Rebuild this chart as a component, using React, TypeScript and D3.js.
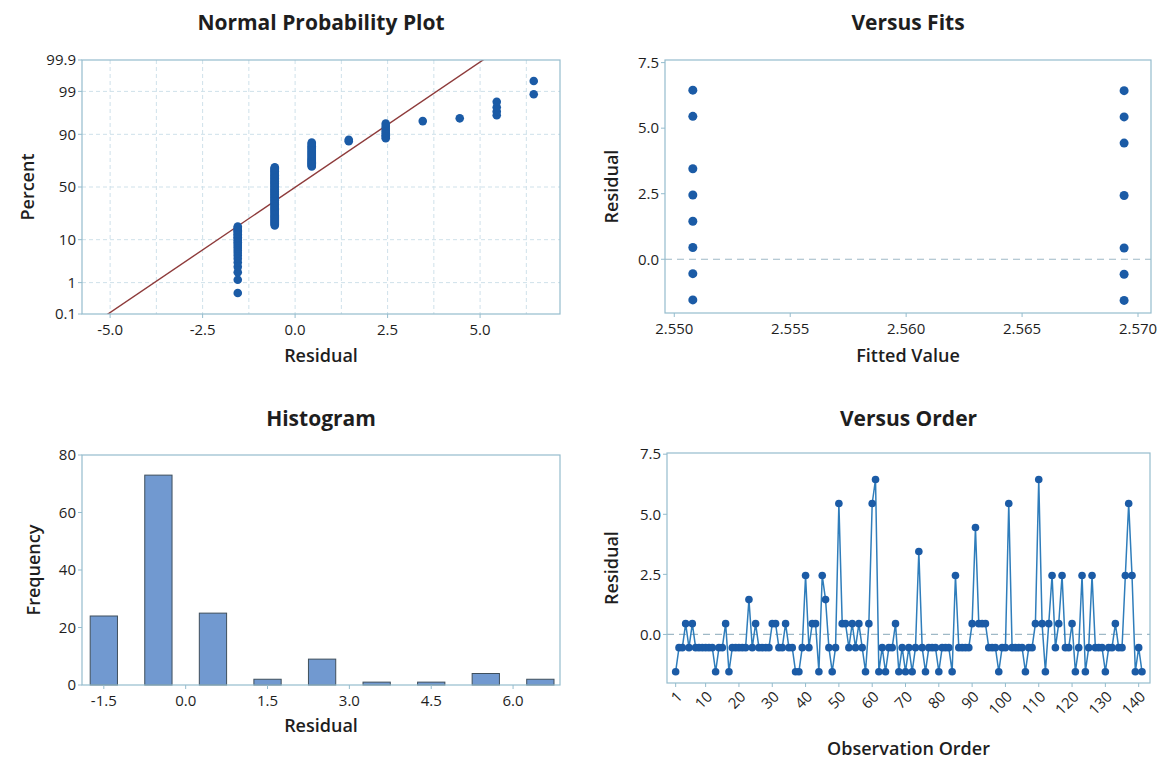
import React from 'react';
import * as d3 from 'd3';

// residuals in observation order (141 obs)
const orderResiduals = [
  -1.55, -0.55, -0.55, 0.45, -0.55, 0.45, -0.55, -0.55, -0.55, -0.55,
  -0.55, -0.55, -1.55, -0.55, -0.55, 0.45, -1.55, -0.55, -0.55, -0.55,
  -0.55, -0.55, 1.45, -0.55, 0.45, -0.55, -0.55, -0.55, -0.55, 0.45,
  0.45, -0.55, -0.55, 0.45, -0.55, -0.55, -1.55, -1.55, -0.55, 2.45,
  -0.55, 0.45, 0.45, -1.55, 2.45, 1.45, -0.55, -1.55, -0.55, 5.45,
  0.45, 0.45, -0.55, 0.45, -0.55, 0.45, -0.55, -1.55, 0.45, 5.45,
  6.45, -1.55, -0.55, -1.55, -0.55, -0.55, 0.45, -1.55, -0.55, -1.55,
  -0.55, -1.55, -0.55, 3.45, -0.55, -1.55, -0.55, -0.55, -0.55, -1.55,
  -0.55, -0.55, -0.55, -1.55, 2.45, -0.55, -0.55, -0.55, -0.55, 0.45,
  4.45, 0.45, 0.45, 0.45, -0.55, -0.55, -0.55, -1.55, -0.55, -0.55,
  5.45, -0.55, -0.55, -0.55, -0.55, -1.55, -0.55, -0.55, 0.45, 6.45,
  0.45, -1.55, 0.45, 2.45, -0.55, 0.45, 2.45, -0.55, -0.55, 0.45,
  -1.55, -0.55, 2.45, -1.55, -0.55, 2.45, -0.55, -0.55, -0.55, -1.55,
  -0.55, -0.55, 0.45, -0.55, -0.55, 2.45, 5.45, 2.45, -1.55, -0.55,
  -1.55,
];

const histBinCenters = [-1.5, -0.5, 0.5, 1.5, 2.5, 3.5, 4.5, 5.5, 6.5];
const histCounts = [24, 73, 25, 2, 9, 1, 1, 4, 2];
const histBinWidth = 0.5;

const fitValues = [2.5508, 2.5694];
const fitResidualsLow = [6.45, 5.45, 3.45, 2.45, 1.45, 0.45, -0.55, -1.55];
const fitResidualsHigh = [6.43, 5.43, 4.43, 2.43, 0.43, -0.57, -1.57];

const probTicks = [0.1, 1, 10, 50, 90, 99, 99.9];
const probTickLabels = ['0.1', '1', '10', '50', '90', '99', '99.9'];
const normalXTicks = [-5, -2.5, 0, 2.5, 5];
const normalXGrid = [-5, -3.75, -2.5, -1.25, 0, 1.25, 2.5, 3.75, 5, 6.25];
const fitsXTicks = [2.55, 2.555, 2.56, 2.565, 2.57];
const residualTicks = [0, 2.5, 5, 7.5];
const histXTicks = [-1.5, 0, 1.5, 3, 4.5, 6];
const freqTicks = [0, 20, 40, 60, 80];
const orderTicks = [1, 10, 20, 30, 40, 50, 60, 70, 80, 90, 100, 110, 120, 130, 140];

const FONT = '"Open Sans", "Noto Sans", sans-serif';
const FRAME = '#95bccd';
const GRID = '#cfe1ea';
const DOT = '#1b5ba6';
const LINE = '#2f7dbb';
const TXT = '#1e1e1e';
const TICK_SIZE = 15;

// inverse normal cdf (Acklam)
function probit(p: number) {
  const a = [-39.6968302866538, 220.946098424521, -275.928510446969, 138.357751867269, -30.6647980661472, 2.50662827745924];
  const b = [-54.4760987982241, 161.585836858041, -155.698979859887, 66.8013118877197, -13.2806815528857];
  const c = [-0.00778489400243029, -0.322396458041136, -2.40075827716184, -2.54973253934373, 4.37466414146497, 2.93816398269878];
  const d = [0.00778469570904146, 0.32246712907004, 2.445134137143, 3.75440866190742];
  const pl = 0.02425;
  if (p < pl) {
    const q = Math.sqrt(-2 * Math.log(p));
    return (((((c[0] * q + c[1]) * q + c[2]) * q + c[3]) * q + c[4]) * q + c[5]) / ((((d[0] * q + d[1]) * q + d[2]) * q + d[3]) * q + 1);
  }
  if (p > 1 - pl) {
    const q = Math.sqrt(-2 * Math.log(1 - p));
    return -(((((c[0] * q + c[1]) * q + c[2]) * q + c[3]) * q + c[4]) * q + c[5]) / ((((d[0] * q + d[1]) * q + d[2]) * q + d[3]) * q + 1);
  }
  const q = p - 0.5;
  const r = q * q;
  return (((((a[0] * r + a[1]) * r + a[2]) * r + a[3]) * r + a[4]) * r + a[5]) * q / (((((b[0] * r + b[1]) * r + b[2]) * r + b[3]) * r + b[4]) * r + 1);
}

type Box = { l: number; r: number; t: number; b: number };

function Frame({ box }: { box: Box }) {
  return <rect x={box.l} y={box.t} width={box.r - box.l} height={box.b - box.t} fill="none" stroke={FRAME} strokeWidth={1.2} />;
}

function Titles({ box, title, xLabel, yLabel, yLabelX, titleY, xLabelY }: any) {
  const cx = (box.l + box.r) / 2;
  const cy = (box.t + box.b) / 2;
  return (
    <g fontFamily={FONT} fill={TXT}>
      <text x={cx} y={titleY} textAnchor="middle" fontSize={21} fontWeight={700}>{title}</text>
      <text x={cx} y={xLabelY} textAnchor="middle" fontSize={18} fontWeight={600}>{xLabel}</text>
      <text transform={`translate(${yLabelX},${cy}) rotate(-90)`} textAnchor="middle" fontSize={18} fontWeight={600}>{yLabel}</text>
    </g>
  );
}

function YTicks({ box, scale, ticks, labels }: any) {
  return (
    <g fontFamily={FONT} fontSize={TICK_SIZE} fill={TXT}>
      {ticks.map((t: number, i: number) => (
        <g key={i}>
          <line x1={box.l - 4} x2={box.l} y1={scale(t)} y2={scale(t)} stroke={FRAME} />
          <text x={box.l - 6} y={scale(t)} dy="0.35em" textAnchor="end">{labels[i]}</text>
        </g>
      ))}
    </g>
  );
}

function XTicks({ box, scale, ticks, labels }: any) {
  return (
    <g fontFamily={FONT} fontSize={TICK_SIZE} fill={TXT}>
      {ticks.map((t: number, i: number) => (
        <g key={i}>
          <line x1={scale(t)} x2={scale(t)} y1={box.b} y2={box.b + 4} stroke={FRAME} />
          <text x={scale(t)} y={box.b + 21} textAnchor="middle">{labels[i]}</text>
        </g>
      ))}
    </g>
  );
}

function NormalPlot() {
  const box: Box = { l: 82, r: 560, t: 60, b: 314 };
  const x = d3.scaleLinear().domain([-5.76, 7.16]).range([box.l, box.r]);
  const yz = d3.scaleLinear().domain([-3.09, 3.09]).range([box.b, box.t]);
  const y = (pct: number) => yz(probit(pct / 100));
  const sorted = [...orderResiduals].sort((a, b) => a - b);
  const n = sorted.length;
  const mean = d3.mean(sorted) as number;
  const sd = d3.deviation(sorted) as number;
  const pts = sorted.map((v, i) => ({ v, p: ((i + 1 - 0.3) / (n + 0.4)) * 100 }));
  const zs = [-3.3, 3.3];
  const fitLine = d3.line<number>().x((z) => x(mean + sd * z)).y((z) => yz(z))(zs) as string;
  return (
    <g>
      <defs>
        <clipPath id="clipN"><rect x={box.l} y={box.t} width={box.r - box.l} height={box.b - box.t} /></clipPath>
      </defs>
      {normalXGrid.map((g) => (
        <line key={g} x1={x(g)} x2={x(g)} y1={box.t} y2={box.b} stroke={GRID} strokeDasharray="4,3" />
      ))}
      {probTicks.slice(1, -1).map((p) => (
        <line key={p} x1={box.l} x2={box.r} y1={y(p)} y2={y(p)} stroke={GRID} strokeDasharray="4,3" />
      ))}
      <path d={fitLine} stroke="#8e3b3b" strokeWidth={1.4} fill="none" clipPath="url(#clipN)" />
      {pts.map((d, i) => (
        <circle key={i} cx={x(d.v)} cy={y(d.p)} r={4.3} fill={DOT} />
      ))}
      <Frame box={box} />
      <YTicks box={box} scale={y} ticks={probTicks} labels={probTickLabels} />
      <XTicks box={box} scale={x} ticks={normalXTicks} labels={normalXTicks.map((t) => t.toFixed(1))} />
      <Titles box={box} title="Normal Probability Plot" xLabel="Residual" yLabel="Percent" yLabelX={34} titleY={30} xLabelY={362} />
    </g>
  );
}

function FitsPlot() {
  const box: Box = { l: 665, r: 1151, t: 60, b: 313 };
  const x = d3.scaleLinear().domain([2.5496, 2.57056]).range([box.l, box.r]);
  const y = d3.scaleLinear().domain([-2.05, 7.6]).range([box.b, box.t]);
  const groups = [fitResidualsLow, fitResidualsHigh];
  return (
    <g>
      <line x1={box.l} x2={box.r} y1={y(0)} y2={y(0)} stroke="#9fb9c6" strokeDasharray="7,5" strokeWidth={1.2} />
      {groups.map((g, gi) => g.map((v, i) => (
        <circle key={`${gi}-${i}`} cx={x(fitValues[gi])} cy={y(v)} r={4.5} fill={DOT} />
      )))}
      <Frame box={box} />
      <YTicks box={box} scale={y} ticks={residualTicks} labels={residualTicks.map((t) => t.toFixed(1))} />
      <XTicks box={box} scale={x} ticks={fitsXTicks} labels={fitsXTicks.map((t) => t.toFixed(3))} />
      <Titles box={box} title="Versus Fits" xLabel="Fitted Value" yLabel="Residual" yLabelX={618} titleY={30} xLabelY={362} />
    </g>
  );
}

function HistPlot() {
  const box: Box = { l: 82, r: 560, t: 455, b: 685 };
  const x = d3.scaleLinear().domain([-1.9, 6.86]).range([box.l, box.r]);
  const y = d3.scaleLinear().domain([0, 80]).range([box.b, box.t]);
  return (
    <g>
      {histCounts.map((c, i) => (
        <rect key={i}
          x={x(histBinCenters[i] - histBinWidth / 2)}
          y={y(c)}
          width={x(histBinWidth) - x(0)}
          height={y(0) - y(c)}
          fill="#7199d0" stroke="#3f4f5c" strokeWidth={1} />
      ))}
      <Frame box={box} />
      <YTicks box={box} scale={y} ticks={freqTicks} labels={freqTicks.map(String)} />
      <XTicks box={box} scale={x} ticks={histXTicks} labels={histXTicks.map((t) => t.toFixed(1))} />
      <Titles box={box} title="Histogram" xLabel="Residual" yLabel="Frequency" yLabelX={40} titleY={426} xLabelY={732} />
    </g>
  );
}

function OrderPlot() {
  const box: Box = { l: 667, r: 1150, t: 453, b: 683 };
  const x = d3.scaleLinear().domain([-1.6, 143.4]).range([box.l, box.r]);
  const y = d3.scaleLinear().domain([-2.02, 7.55]).range([box.b, box.t]);
  const pts = orderResiduals.map((v, i) => ({ o: i + 1, v }));
  const path = d3.line<{ o: number; v: number }>().x((d) => x(d.o)).y((d) => y(d.v))(pts) as string;
  return (
    <g>
      <line x1={box.l} x2={box.r} y1={y(0)} y2={y(0)} stroke="#9fb9c6" strokeDasharray="7,5" strokeWidth={1.2} />
      <path d={path} fill="none" stroke={LINE} strokeWidth={1.5} />
      {pts.map((d) => (
        <circle key={d.o} cx={x(d.o)} cy={y(d.v)} r={3.8} fill={DOT} />
      ))}
      <Frame box={box} />
      <YTicks box={box} scale={y} ticks={residualTicks} labels={residualTicks.map((t) => t.toFixed(1))} />
      <g fontFamily={FONT} fontSize={TICK_SIZE} fill={TXT}>
        {orderTicks.map((t) => (
          <g key={t}>
            <line x1={x(t)} x2={x(t)} y1={box.b} y2={box.b + 4} stroke={FRAME} />
            <text transform={`translate(${x(t) + 4},${box.b + 11}) rotate(-45)`} textAnchor="end" dy="0.35em">{t}</text>
          </g>
        ))}
      </g>
      <Titles box={box} title="Versus Order" xLabel="Observation Order" yLabel="Residual" yLabelX={618} titleY={426} xLabelY={755} />
    </g>
  );
}

export default function App() {
  return (
    <svg width={1168} height={764} style={{ position: 'absolute', left: 0, top: 0, background: '#fff' }}>
      <rect width={1168} height={764} fill="#fff" />
      <NormalPlot />
      <FitsPlot />
      <HistPlot />
      <OrderPlot />
    </svg>
  );
}
